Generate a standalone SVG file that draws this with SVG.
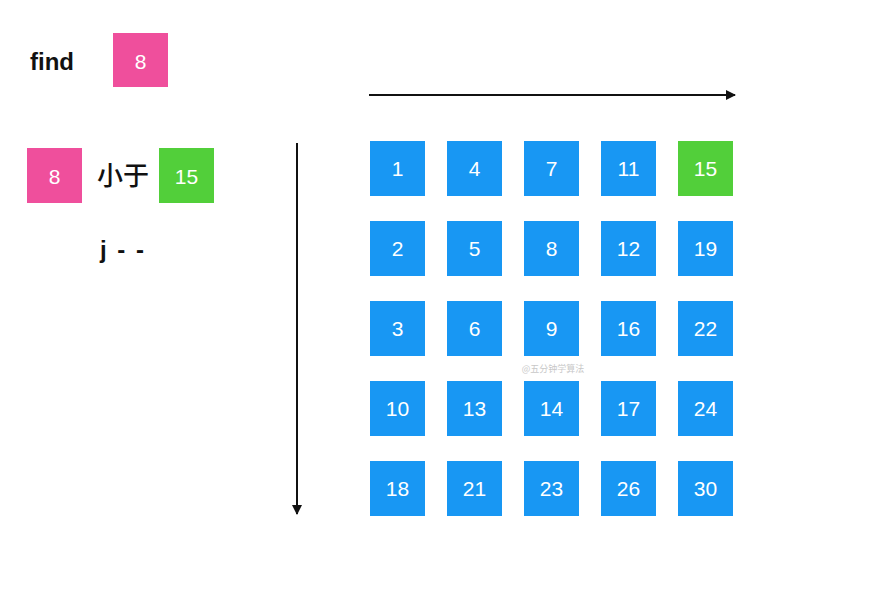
<svg xmlns="http://www.w3.org/2000/svg" width="886" height="616" viewBox="0 0 886 616">
<style>
.b{fill:#1897F3}
.p{fill:#EF4F9C}
.g{fill:#52CF3A}
.t{font-family:"Liberation Sans",Arial,sans-serif;font-size:21px;fill:#fff;text-anchor:middle;dominant-baseline:central}
.k{font-family:"Liberation Sans","Noto Sans CJK SC",sans-serif;font-size:24px;font-weight:bold;fill:#111}
.c{stroke:#111;stroke-width:2;fill:none}
</style>
<defs>
<marker id="ah" viewBox="0 0 10 10" refX="9" refY="5" markerWidth="5" markerHeight="5" orient="auto" markerUnits="strokeWidth">
<path d="M0,0 L10,5 L0,10 z" fill="#111"/>
</marker>
</defs>
<rect width="886" height="616" fill="#fff"/>
<g id="find-label"><text class="k" x="30" y="70">find</text></g>
<g id="find-box"><rect class="p" x="113" y="33" width="55" height="54"/><text class="t" x="140.5" y="61">8</text></g>
<g id="cmp-left"><rect class="p" x="27" y="148" width="55" height="55"/><text class="t" x="54.5" y="176">8</text></g>
<g id="cmp-text"><text x="97" y="185" style="font-family:'Noto Sans CJK SC',sans-serif;font-size:26px;font-weight:500;fill:#111">小于</text></g>
<g id="cmp-right"><rect class="g" x="159" y="148" width="55" height="55"/><text class="t" x="186.5" y="176">15</text></g>
<g id="jmm"><text class="k" x="100" y="258" letter-spacing="2">j - -</text></g>
<g id="connectors">
<line class="c" x1="369" y1="95" x2="735" y2="95" marker-end="url(#ah)"/>
<line class="c" x1="297" y1="143" x2="297" y2="514" marker-end="url(#ah)"/>
</g>
<g id="grid">
<g id="n1"><rect class="b" x="370" y="141" width="55" height="55"/><text class="t" x="397.5" y="168.5">1</text></g>
<g id="n4"><rect class="b" x="447" y="141" width="55" height="55"/><text class="t" x="474.5" y="168.5">4</text></g>
<g id="n7"><rect class="b" x="524" y="141" width="55" height="55"/><text class="t" x="551.5" y="168.5">7</text></g>
<g id="n11"><rect class="b" x="601" y="141" width="55" height="55"/><text class="t" x="628.5" y="168.5">11</text></g>
<g id="n15"><rect class="g" x="678" y="141" width="55" height="55"/><text class="t" x="705.5" y="168.5">15</text></g>
<g id="n2"><rect class="b" x="370" y="221" width="55" height="55"/><text class="t" x="397.5" y="248.5">2</text></g>
<g id="n5"><rect class="b" x="447" y="221" width="55" height="55"/><text class="t" x="474.5" y="248.5">5</text></g>
<g id="n8"><rect class="b" x="524" y="221" width="55" height="55"/><text class="t" x="551.5" y="248.5">8</text></g>
<g id="n12"><rect class="b" x="601" y="221" width="55" height="55"/><text class="t" x="628.5" y="248.5">12</text></g>
<g id="n19"><rect class="b" x="678" y="221" width="55" height="55"/><text class="t" x="705.5" y="248.5">19</text></g>
<g id="n3"><rect class="b" x="370" y="301" width="55" height="55"/><text class="t" x="397.5" y="328.5">3</text></g>
<g id="n6"><rect class="b" x="447" y="301" width="55" height="55"/><text class="t" x="474.5" y="328.5">6</text></g>
<g id="n9"><rect class="b" x="524" y="301" width="55" height="55"/><text class="t" x="551.5" y="328.5">9</text></g>
<g id="n16"><rect class="b" x="601" y="301" width="55" height="55"/><text class="t" x="628.5" y="328.5">16</text></g>
<g id="n22"><rect class="b" x="678" y="301" width="55" height="55"/><text class="t" x="705.5" y="328.5">22</text></g>
<g id="n10"><rect class="b" x="370" y="381" width="55" height="55"/><text class="t" x="397.5" y="408.5">10</text></g>
<g id="n13"><rect class="b" x="447" y="381" width="55" height="55"/><text class="t" x="474.5" y="408.5">13</text></g>
<g id="n14"><rect class="b" x="524" y="381" width="55" height="55"/><text class="t" x="551.5" y="408.5">14</text></g>
<g id="n17"><rect class="b" x="601" y="381" width="55" height="55"/><text class="t" x="628.5" y="408.5">17</text></g>
<g id="n24"><rect class="b" x="678" y="381" width="55" height="55"/><text class="t" x="705.5" y="408.5">24</text></g>
<g id="n18"><rect class="b" x="370" y="461" width="55" height="55"/><text class="t" x="397.5" y="488.5">18</text></g>
<g id="n21"><rect class="b" x="447" y="461" width="55" height="55"/><text class="t" x="474.5" y="488.5">21</text></g>
<g id="n23"><rect class="b" x="524" y="461" width="55" height="55"/><text class="t" x="551.5" y="488.5">23</text></g>
<g id="n26"><rect class="b" x="601" y="461" width="55" height="55"/><text class="t" x="628.5" y="488.5">26</text></g>
<g id="n30"><rect class="b" x="678" y="461" width="55" height="55"/><text class="t" x="705.5" y="488.5">30</text></g>
</g>
<text x="553" y="372" style="font-family:'Noto Sans CJK SC',sans-serif;font-size:9px;fill:#c8c8c8;text-anchor:middle">@五分钟学算法</text>
</svg>
